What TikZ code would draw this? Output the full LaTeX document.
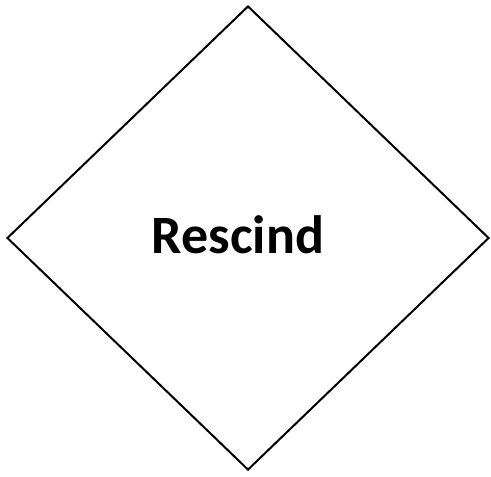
\documentclass[tikz,border=0pt]{standalone}
\usepackage{fontspec}
\setmainfont{Carlito}
\usetikzlibrary{shapes.geometric,positioning}

\begin{document}
\begin{tikzpicture}[
  x=0.75pt, y=-0.75pt,
  decision/.style={draw, shape=diamond, line width=1.5pt, inner sep=0pt,
    minimum width=361.5pt, minimum height=348pt},
  word/.style={font=\fontsize{40.5}{44}\selectfont\bfseries, inner sep=0pt},
]
\useasboundingbox (0,0) rectangle (491,476);
% ---- decision box ----
\node[decision] (box) at (248,238) {};
\node[word, anchor=base] (rescind) at (238,253) {Rescind};
\end{tikzpicture}
\end{document}
